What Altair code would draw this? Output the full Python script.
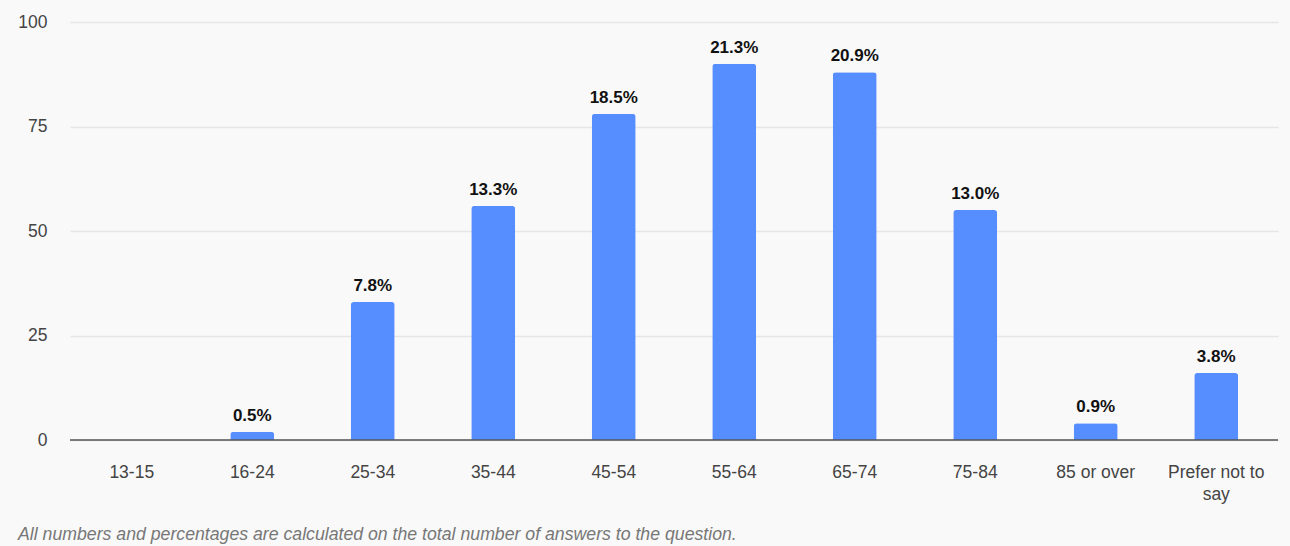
import altair as alt
import pandas as pd

# Age groups and number of answers per group
age_groups = ["13-15", "16-24", "25-34", "35-44", "45-54", "55-64",
              "65-74", "75-84", "85 or over", "Prefer not to say"]
answers = [0, 2, 33, 56, 78, 90, 88, 55, 4, 16]
y_ticks = [0, 25, 50, 75, 100]

footnote = "All numbers and percentages are calculated on the total number of answers to the question."

total = sum(answers)
df = pd.DataFrame({"age": age_groups, "count": answers})
df["pct"] = [f"{c / total * 100:.1f}%" for c in answers]
df_labelled = df[df["count"] > 0]

FONT = "Liberation Sans"
BAR = "#578EFF"

x_enc = alt.X(
    "age:N",
    sort=age_groups,
    title=None,
    scale=alt.Scale(paddingInner=0.635, paddingOuter=0.33),
    axis=alt.Axis(
        labelAngle=0,
        labelFont=FONT,
        labelFontSize=17.5,
        labelColor="#444444",
        labelPadding=23,
        labelLineHeight=22,
        ticks=False,
        domain=False,
        grid=False,
        labelExpr="datum.label == 'Prefer not to say' ? ['Prefer not to', 'say'] : datum.label",
    ),
)

y_enc = alt.Y(
    "count:Q",
    title=None,
    scale=alt.Scale(domain=[0, 100], nice=False),
    axis=alt.Axis(
        values=y_ticks,
        labelFont=FONT,
        labelFontSize=17.5,
        labelColor="#444444",
        labelPadding=23,
        ticks=False,
        domain=False,
        gridColor="#e6e6e6",
        gridWidth=1.5,
    ),
)

bars = alt.Chart(df).mark_bar(
    color=BAR, cornerRadiusTopLeft=3, cornerRadiusTopRight=3
).encode(x=x_enc, y=y_enc)

labels = alt.Chart(df_labelled).mark_text(
    font=FONT, fontSize=17, fontWeight="bold", color="#111111",
    baseline="bottom", dy=-7,
).encode(x=alt.X("age:N", sort=age_groups), y="count:Q", text="pct:N")

baseline = alt.Chart(pd.DataFrame({"zero": [0]})).mark_rule(
    color="#555555", strokeWidth=1.5
).encode(y="zero:Q")

chart = (
    alt.layer(bars, baseline, labels)
    .properties(
        width=1208,
        height=418,
        padding={"left": 70, "top": 22, "right": 12, "bottom": 106},
        autosize=alt.AutoSizeParams(type="none"),
        background="#f9f9f9",
        title=alt.TitleParams(
            footnote,
            orient="bottom",
            anchor="start",
            frame="group",
            dx=-52,
            offset=23,
            font=FONT,
            fontSize=17.7,
            fontStyle="italic",
            fontWeight="normal",
            color="#777777",
        ),
    )
    .configure_view(stroke=None)
)

chart.save("out.html", embed_options={"renderer": "svg", "actions": False})
